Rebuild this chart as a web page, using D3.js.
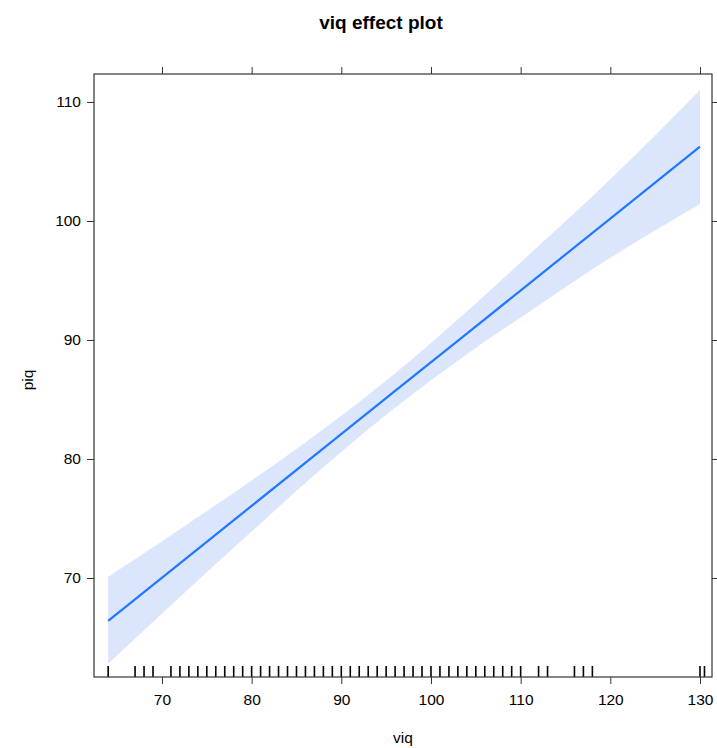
<!DOCTYPE html>
<html>
<head>
<meta charset="utf-8">
<script src="https://cdn.jsdelivr.net/npm/d3@7"></script>
<style>
  html, body { margin: 0; padding: 0; background: #fff; }
  svg { display: block; }
  text { font-family: "Liberation Sans", Arial, Helvetica, sans-serif; fill: #000; }
</style>
</head>
<body>
<svg id="chart" width="717" height="748"></svg>
<script>
// ---- data ----
const title = "viq effect plot";
const xLabel = "viq";
const yLabel = "piq";
const xTicks = [70, 80, 90, 100, 110, 120, 130];
const yTicks = [70, 80, 90, 100, 110];
const viqGrid   = [64, 72, 80, 88, 96, 104, 112, 120, 130];
const fitValues = [66.40, 71.23, 76.06, 80.89, 85.72, 90.54, 95.37, 100.20, 106.24];
const lowerValues = [62.8, 68.4, 73.9, 79.3, 84.3, 88.8, 92.9, 96.9, 101.4];
const upperValues = [70.1, 74.1, 78.2, 82.5, 87.2, 92.4, 97.9, 103.5, 111.0];
const rugValues = [64, 67, 68, 69, 71, 72, 73, 74, 75, 76, 77, 78, 79, 80, 81, 82, 83, 84,
  85, 86, 87, 88, 89, 90, 91, 92, 93, 94, 95, 96, 97, 98, 99, 100, 101, 102, 103, 104,
  105, 106, 107, 108, 109, 110, 112, 113, 116, 117, 118, 130, 130.5];

// ---- layout ----
const svg = d3.select("#chart");
const box = { left: 94, right: 712, top: 74, bottom: 677 };
const x = d3.scaleLinear().domain([62.42, 131.34]).range([box.left, box.right]);
const y = d3.scaleLinear().domain([61.68, 112.35]).range([box.bottom, box.top]);

const rows = viqGrid.map((v, i) => ({ v, fit: fitValues[i], lo: lowerValues[i], hi: upperValues[i] }));

// band
svg.append("path")
  .datum(rows)
  .attr("fill", "#dbe6fd")
  .attr("stroke", "none")
  .attr("d", d3.area().curve(d3.curveMonotoneX)
    .x(d => x(d.v)).y0(d => y(d.lo)).y1(d => y(d.hi)));

// fit line
svg.append("path")
  .datum(rows)
  .attr("fill", "none")
  .attr("stroke", "#1f78ff")
  .attr("stroke-width", 2.2)
  .attr("d", d3.line().x(d => x(d.v)).y(d => y(d.fit)));

// rug
svg.append("g").selectAll("line").data(rugValues).join("line")
  .attr("x1", d => x(d)).attr("x2", d => x(d))
  .attr("y1", box.bottom - 11).attr("y2", box.bottom)
  .attr("stroke", "#000").attr("stroke-width", 1.6);

// axes
const tickLen = 7;
const styleAxis = g => {
  g.select(".domain").remove();
  g.selectAll(".tick line").attr("stroke", "#333").attr("stroke-width", 1);
  g.selectAll(".tick text").attr("font-size", 15.5).attr("fill", "#111")
    .style("font-family", "'Liberation Sans', Arial, sans-serif");
};
svg.append("g").attr("transform", `translate(0,${box.bottom})`)
  .call(d3.axisBottom(x).tickValues(xTicks).tickSize(tickLen).tickPadding(10).tickFormat(d3.format("d")))
  .call(styleAxis);
svg.append("g").attr("transform", `translate(0,${box.top})`)
  .call(d3.axisTop(x).tickValues(xTicks).tickSize(tickLen).tickFormat(""))
  .call(styleAxis);
svg.append("g").attr("transform", `translate(${box.left},0)`)
  .call(d3.axisLeft(y).tickValues(yTicks).tickSize(tickLen).tickPadding(6).tickFormat(d3.format("d")))
  .call(styleAxis);
svg.append("g").attr("transform", `translate(${box.right},0)`)
  .call(d3.axisRight(y).tickValues(yTicks).tickSize(tickLen).tickFormat(""))
  .call(styleAxis);

// frame
svg.append("rect")
  .attr("x", box.left).attr("y", box.top)
  .attr("width", box.right - box.left).attr("height", box.bottom - box.top)
  .attr("fill", "none").attr("stroke", "#333").attr("stroke-width", 1.2);

// labels
svg.append("text").attr("x", 381).attr("y", 29).attr("text-anchor", "middle")
  .attr("font-size", 19).attr("font-weight", "bold").text(title);
svg.append("text").attr("x", 403).attr("y", 743).attr("text-anchor", "middle")
  .attr("font-size", 15.5).text(xLabel);
svg.append("text").attr("transform", "translate(33,380) rotate(-90)")
  .attr("text-anchor", "middle").attr("font-size", 15.5).text(yLabel);
</script>
</body>
</html>
